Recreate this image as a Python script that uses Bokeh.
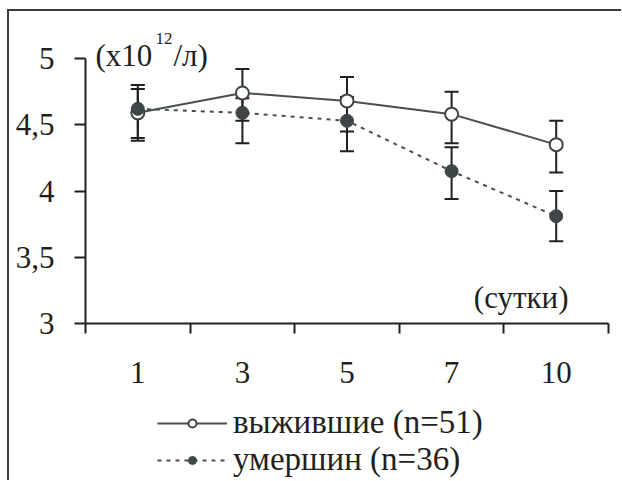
from bokeh.plotting import figure
from bokeh.layouts import column
from bokeh.models import (ColumnDataSource, Range1d, FixedTicker, Whisker, TeeHead,
                          Label, Legend, LegendItem, InlineStyleSheet)
from bokeh.embed import file_html
from bokeh.resources import INLINE

# ---- data ----
days = ["1", "3", "5", "7", "10"]
surv_mean = [4.59, 4.74, 4.68, 4.58, 4.35]
surv_upper = [4.80, 4.92, 4.86, 4.75, 4.53]
surv_lower = [4.38, 4.53, 4.45, 4.36, 4.14]
dead_mean = [4.62, 4.59, 4.53, 4.15, 3.81]
dead_upper = [4.77, 4.70, 4.71, 4.33, 4.00]
dead_lower = [4.40, 4.36, 4.30, 3.94, 3.62]
y_ticks = [3, 3.5, 4, 4.5, 5]
y_tick_labels = ["3", "3,5", "4", "4,5", "5"]
surv_label = "выжившие (n=51)"
dead_label = "умершин (n=36)"
unit_label = ["(x10", "12", "/л)"]
x_title = "(сутки)"

FONT = "Liberation Serif"
INK = "#231f20"
LINE = "#474f51"
MARK = "#3e4648"

xpos = [i + 0.5 for i in range(len(days))]
src_s = ColumnDataSource(dict(x=xpos, y=surv_mean, up=surv_upper, lo=surv_lower))
src_d = ColumnDataSource(dict(x=xpos, y=dead_mean, up=dead_upper, lo=dead_lower))

# frame extended above the top tick so that the unit label is not clipped
y_top = y_ticks[-1] + 0.4

p = figure(width=622, height=400, output_backend="svg", toolbar_location=None,
           x_range=Range1d(0, len(days)), y_range=Range1d(y_ticks[0], y_top),
           min_border_left=85, min_border_top=5, min_border_right=14, min_border_bottom=77)
p.outline_line_color = None
p.grid.visible = False
p.background_fill_alpha = 0
p.border_fill_alpha = 0

# axes
xa = p.xaxis[0]
xa.ticker = FixedTicker(ticks=xpos, minor_ticks=list(range(len(days) + 1)))
xa.major_label_overrides = {x: d for x, d in zip(xpos, days)}
xa.major_tick_out = 0
xa.major_tick_in = 0
xa.major_tick_line_color = None
xa.minor_tick_out = 10
xa.minor_tick_in = 0
xa.minor_tick_line_width = 2
xa.minor_tick_line_color = INK
xa.axis_line_width = 2
xa.axis_line_color = INK
xa.major_label_standoff = 28
xa.major_label_text_font = FONT
xa.major_label_text_font_size = "31px"
xa.major_label_text_color = INK

ya = p.yaxis[0]
ya.bounds = (y_ticks[0], y_ticks[-1])
ya.ticker = FixedTicker(ticks=y_ticks, minor_ticks=[])
ya.major_label_overrides = {t: l for t, l in zip(y_ticks, y_tick_labels)}
ya.major_tick_out = 11
ya.major_tick_in = 0
ya.major_tick_line_width = 2
ya.major_tick_line_color = INK
ya.axis_line_width = 2
ya.axis_line_color = INK
ya.major_label_standoff = 20
ya.major_label_text_font = FONT
ya.major_label_text_font_size = "31px"
ya.major_label_text_color = INK

# error bars
for src in (src_s, src_d):
    w = Whisker(source=src, base="x", upper="up", lower="lo",
                line_color=INK, line_width=2,
                upper_head=TeeHead(size=14, line_color=INK, line_width=2),
                lower_head=TeeHead(size=14, line_color=INK, line_width=2))
    p.add_layout(w)

# series
line_s = dict(line_color=LINE, line_width=2)
mark_s = dict(size=13, fill_color="white", line_color=MARK, line_width=2)
line_d = dict(line_color=LINE, line_width=2, line_dash="4 5")
mark_d = dict(size=13, fill_color=MARK, line_color=MARK, line_width=1)
p.line("x", "y", source=src_s, **line_s)
p.scatter("x", "y", source=src_s, **mark_s)
p.line("x", "y", source=src_d, **line_d)
p.scatter("x", "y", source=src_d, **mark_d)

# unit label
p.add_layout(Label(x=0, y=y_ticks[-1], x_offset=10, y_offset=3, text=unit_label[0],
                   text_font=FONT, text_font_size="31px", text_color=INK,
                   text_baseline="alphabetic"))
p.add_layout(Label(x=0, y=y_ticks[-1], x_offset=70, y_offset=20, text=unit_label[1],
                   text_font=FONT, text_font_size="17px", text_color=INK,
                   text_baseline="alphabetic"))
p.add_layout(Label(x=0, y=y_ticks[-1], x_offset=88, y_offset=3, text=unit_label[2],
                   text_font=FONT, text_font_size="31px", text_color=INK,
                   text_baseline="alphabetic"))
p.add_layout(Label(x=len(days), y=y_ticks[0], x_offset=-40, y_offset=26, text=x_title,
                   text_font=FONT, text_font_size="31px", text_color=INK,
                   text_align="right", text_baseline="alphabetic"))

# legend strip (same series styles; data lies outside this strip's view)
q = figure(width=622, height=81, output_backend="svg", toolbar_location=None,
           x_range=Range1d(0, len(days)), y_range=Range1d(0, 1),
           x_axis_type=None, y_axis_type=None,
           min_border_left=0, min_border_top=0, min_border_right=0, min_border_bottom=0)
q.outline_line_color = None
q.grid.visible = False
q.background_fill_alpha = 0
q.border_fill_alpha = 0
qls = q.line("x", "y", source=src_s, **line_s)
qms = q.scatter("x", "y", source=src_s, **mark_s)
qld = q.line("x", "y", source=src_d, **line_d)
qmd = q.scatter("x", "y", source=src_d, **mark_d)
legend = Legend(items=[LegendItem(label=surv_label, renderers=[qls, qms]),
                       LegendItem(label=dead_label, renderers=[qld, qmd])],
                location=(72, 3), orientation="vertical",
                label_text_font=FONT, label_text_font_size="33px",
                label_text_color=INK, glyph_width=70, glyph_height=20,
                label_standoff=6, spacing=0, padding=0, margin=0,
                border_line_color=None, background_fill_alpha=0)
q.add_layout(legend, "center")

layout = column(p, q, spacing=0)
layout.stylesheets = [InlineStyleSheet(css="""
:host { overflow: hidden; }
:host::after { content: ""; position: absolute; left: 7px; top: 9px;
  width: 614px; height: 471px; box-sizing: border-box;
  border-top: 2px solid #3a3a3a; border-left: 2px solid #3a3a3a;
  pointer-events: none; }
""")]

html = file_html(layout, INLINE)
html = html.replace("</head>",
                    "<style>html,body{margin:0;padding:0;overflow:hidden;}</style></head>", 1)
open("out.html", "w").write(html)
